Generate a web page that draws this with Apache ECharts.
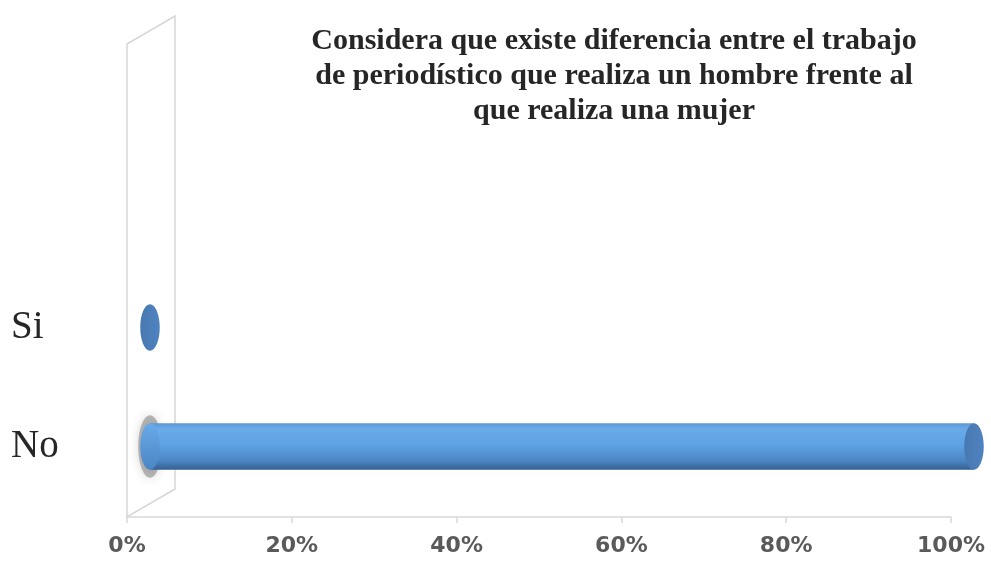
<!DOCTYPE html>
<html>
<head>
<meta charset="utf-8">
<script src="https://cdn.jsdelivr.net/npm/echarts@6/dist/echarts.min.js"></script>
<style>
  html, body { margin: 0; padding: 0; background: #ffffff; }
  #chart { width: 991px; height: 568px; }
</style>
</head>
<body>
<div id="chart"></div>
<script>
// Survey answers (percent of respondents)
const categories = ['No', 'Si'];
const values = [100, 0];
const tickValues = [0, 20, 40, 60, 80, 100];
const titleText = 'Considera que existe diferencia entre el trabajo\nde periodístico que realiza un hombre frente al\nque realiza una mujer';

// plot frame
const GRID_LEFT = 127;
const GRID_RIGHT = 40;
const GRID_TOP = 268;
const GRID_BOTTOM = 62;
const AXIS_OFFSET = 11;     // x axis sits on the floor, below the category band
const DEPTH_X = 48, DEPTH_Y = -28;   // 3D depth of the side wall

const chart = echarts.init(document.getElementById('chart'), null, { renderer: 'canvas' });

function cylinder(params, api) {
  const v = api.value(0);
  const cat = api.value(1);
  const p0 = api.coord([0, cat]);
  const p1 = api.coord([v, cat]);
  const band = api.size([0, 1])[1];
  const r = band * 0.195;          // half thickness of the cylinder
  const shift = DEPTH_X / 2 - 1;   // bars stand in the middle of the depth
  const x0 = p0[0] + shift;
  const x1 = p1[0] + shift;
  const cy = p0[1];
  const capRx = r * 0.42;
  const children = [];
  if (x1 - x0 > 1) {
    // soft shadowed base of the cylinder
    children.push({
      type: 'ellipse',
      shape: { cx: x0, cy: cy, rx: capRx + 2, ry: r + 8 },
      style: { fill: 'rgba(120,120,120,0.5)', shadowBlur: 10, shadowColor: 'rgba(120,120,120,0.6)' }
    });
    children.push({
      type: 'rect',
      shape: { x: x0, y: cy - r, width: x1 - x0, height: 2 * r },
      style: {
        fill: new echarts.graphic.LinearGradient(0, 0, 0, 1, [
          { offset: 0, color: '#5d97d6' },
          { offset: 0.12, color: '#6aaae8' },
          { offset: 0.45, color: '#5ea3e3' },
          { offset: 0.8, color: '#4d87c6' },
          { offset: 1, color: '#335f91' }
        ])
      }
    });
    children.push({
      type: 'ellipse',
      shape: { cx: x0, cy: cy, rx: capRx, ry: r },
      style: {
        fill: new echarts.graphic.LinearGradient(0, 0, 0, 1, [
          { offset: 0, color: '#6aaae8' },
          { offset: 1, color: '#4b85c4' }
        ])
      }
    });
  }
  // end face of the cylinder
  children.push({
    type: 'ellipse',
    shape: { cx: x1, cy: cy, rx: capRx, ry: r },
    style: {
      fill: new echarts.graphic.LinearGradient(0, 0, 1, 0, [
        { offset: 0, color: '#4878b0' },
        { offset: 1, color: '#4f83c0' }
      ])
    }
  });
  return { type: 'group', children: children };
}

const option = {
  backgroundColor: '#ffffff',
  animation: false,
  title: {
    text: titleText,
    left: 609,
    top: 19,
    textAlign: 'center',
    textStyle: {
      fontFamily: 'Liberation Serif',
      fontWeight: 'bold',
      fontSize: 30,
      lineHeight: 35,
      color: '#262626'
    }
  },
  grid: { left: GRID_LEFT, right: GRID_RIGHT, top: GRID_TOP, bottom: GRID_BOTTOM },
  xAxis: {
    type: 'value',
    min: tickValues[0],
    max: tickValues[tickValues.length - 1],
    interval: 20,
    offset: AXIS_OFFSET,
    splitLine: { show: false },
    axisLine: { show: true, lineStyle: { color: '#d9d9d9', width: 1.5 } },
    axisTick: { show: true, length: 6, lineStyle: { color: '#d9d9d9', width: 1.5 } },
    axisLabel: {
      margin: 18,
      formatter: '{value}%',
      fontFamily: 'DejaVu Sans',
      fontSize: 22,
      fontWeight: 'bold',
      color: '#5a5a5a'
    }
  },
  yAxis: {
    type: 'category',
    data: categories,
    axisLine: { show: false },
    axisTick: { show: false },
    splitLine: { show: false },
    axisLabel: {
      margin: 116,
      align: 'left',
      fontFamily: 'Liberation Serif',
      fontSize: 39,
      color: '#262626'
    }
  },
  series: [{
    type: 'custom',
    renderItem: cylinder,
    encode: { x: 0, y: 1 },
    data: categories.map((c, i) => [values[i], c]),
    z: 3
  }]
};

chart.setOption(option);

// side wall outline, placed from the grid's own pixel positions
const rect = chart.getModel().getComponent('grid', 0).coordinateSystem.getRect();
const baseX = rect.x;
const baseY = rect.y + rect.height + AXIS_OFFSET;
const topY = 44;
const wallStyle = { stroke: '#d6d6d6', lineWidth: 1.5, fill: null };
chart.setOption({
  graphic: [{
    type: 'polygon',
    z: 1,
    shape: {
      points: [
        [baseX, baseY],
        [baseX, topY],
        [baseX + DEPTH_X, topY + DEPTH_Y],
        [baseX + DEPTH_X, baseY + DEPTH_Y]
      ]
    },
    style: wallStyle,
    silent: true
  }]
});
</script>
</body>
</html>
